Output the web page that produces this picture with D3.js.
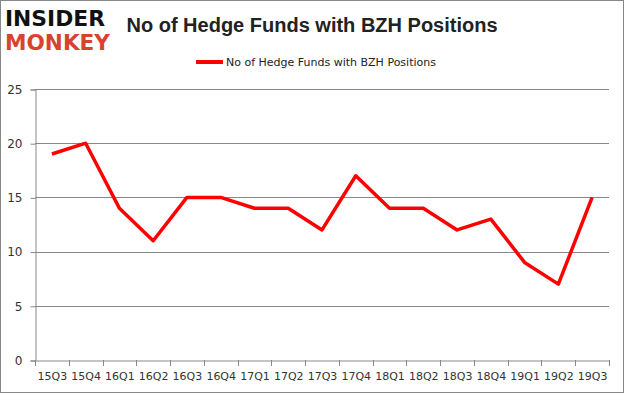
<!DOCTYPE html>
<html lang="en">
<head>
<meta charset="utf-8">
<title>BZH hedge funds</title>
<script src="https://cdn.jsdelivr.net/npm/d3@7"></script>
<style>
  body { margin: 0; background: #fff; }
  text { font-family: "DejaVu Sans", sans-serif; }
</style>
</head>
<body>
<script>
var quarters = ["15Q3","15Q4","16Q1","16Q2","16Q3","16Q4","17Q1","17Q2","17Q3","17Q4","18Q1","18Q2","18Q3","18Q4","19Q1","19Q2","19Q3"];
var funds = [19, 20, 14, 11, 15, 15, 14, 14, 12, 17, 14, 14, 12, 13, 9, 7, 15];
var yTicks = [0, 5, 10, 15, 20, 25];
var seriesName = "No of Hedge Funds with BZH Positions";

var w = 625, h = 394;
var plotLeft = 35, plotRight = 609, plotTop = 89, plotBottom = 360;

var svg = d3.select("body").append("svg")
  .attr("width", w)
  .attr("height", h);

// outer frame
svg.append("rect")
  .attr("x", 0.5).attr("y", 0.5)
  .attr("width", w - 2).attr("height", h - 2)
  .attr("fill", "none")
  .attr("stroke", "#888");

var x = d3.scaleBand().domain(quarters).range([plotLeft, plotRight]);
var y = d3.scaleLinear().domain([0, 25]).range([plotBottom, plotTop]);

// gridlines
svg.selectAll("line.grid")
  .data(yTicks.slice(1))
  .enter().append("line")
  .attr("class", "grid")
  .attr("x1", plotLeft).attr("x2", plotRight)
  .attr("y1", function(d){ return Math.round(y(d)) + 0.5; })
  .attr("y2", function(d){ return Math.round(y(d)) + 0.5; })
  .attr("stroke", "#888").attr("stroke-width", 1);

var yAxis = svg.append("g")
  .attr("transform", "translate(" + (plotLeft + 0.5) + ",0.5)")
  .call(d3.axisLeft(y).tickValues(yTicks).tickSize(5).tickPadding(8));
yAxis.select(".domain").attr("stroke", "#888");
yAxis.selectAll(".tick line").attr("stroke", "#888");
yAxis.selectAll(".tick text").attr("fill", "#333").style("font-size", "12px")
  .style("font-family", "'DejaVu Sans', sans-serif");

var xAxis = svg.append("g")
  .attr("transform", "translate(0.5," + (plotBottom + 0.5) + ")")
  .call(d3.axisBottom(x).tickSizeOuter(0).tickSize(0).tickPadding(12));
xAxis.select(".domain").attr("stroke", "#888");
xAxis.selectAll(".tick text").attr("fill", "#333").style("font-size", "11px")
  .style("font-family", "'DejaVu Sans', sans-serif");
// category boundary ticks
svg.selectAll("line.xt")
  .data(quarters.concat(["end"]))
  .enter().append("line")
  .attr("class", "xt")
  .attr("x1", function(d, i){ return Math.round(plotLeft + i * x.step()) + 0.5; })
  .attr("x2", function(d, i){ return Math.round(plotLeft + i * x.step()) + 0.5; })
  .attr("y1", plotBottom).attr("y2", plotBottom + 6)
  .attr("stroke", "#888");

var line = d3.line()
  .x(function(d, i){ return x(quarters[i]) + x.bandwidth() / 2; })
  .y(function(d){ return y(d); });

svg.append("path")
  .datum(funds)
  .attr("d", line)
  .attr("fill", "none")
  .attr("stroke", "#ff0000")
  .attr("stroke-width", 3.5)
  .attr("stroke-linejoin", "round");

// title
svg.append("text")
  .attr("x", 312).attr("y", 32)
  .attr("text-anchor", "middle")
  .style("font-family", "'Liberation Sans', Arial, sans-serif")
  .style("font-size", "20px").style("font-weight", "bold")
  .attr("fill", "#222")
  .text("No of Hedge Funds with BZH Positions");

// legend
svg.append("line")
  .attr("x1", 196).attr("x2", 223).attr("y1", 62).attr("y2", 62)
  .attr("stroke", "#ff0000").attr("stroke-width", 4);
svg.append("text")
  .attr("x", 226).attr("y", 66)
  .style("font-size", "11px")
  .attr("fill", "#222")
  .text(seriesName);

// logo
svg.append("text")
  .attr("x", 5).attr("y", 26)
  .attr("textLength", 100).attr("lengthAdjust", "spacingAndGlyphs")
  .style("font-family", "'DejaVu Sans', sans-serif")
  .style("font-size", "21px").style("font-weight", "bold")
  .attr("fill", "#111")
  .text("INSIDER");
svg.append("text")
  .attr("x", 5).attr("y", 50)
  .attr("textLength", 105).attr("lengthAdjust", "spacingAndGlyphs")
  .style("font-family", "'DejaVu Sans', sans-serif")
  .style("font-size", "21px").style("font-weight", "bold")
  .attr("fill", "#d8432e")
  .text("MONKEY");
</script>
</body>
</html>
